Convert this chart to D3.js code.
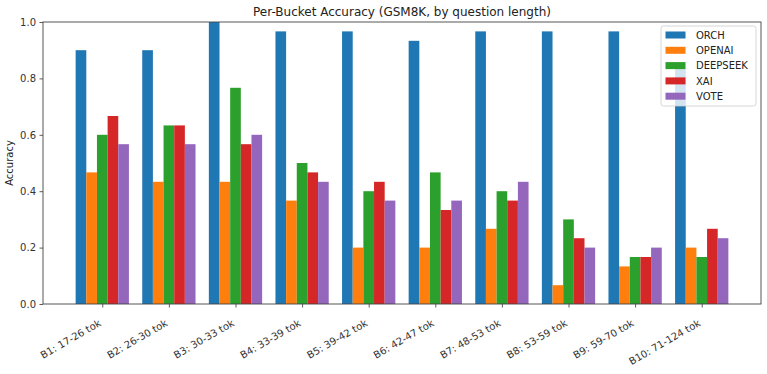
<!DOCTYPE html>
<html>
<head>
<meta charset="utf-8">
<script src="https://cdn.jsdelivr.net/npm/d3@7"></script>
<style>
  html, body { margin: 0; padding: 0; background: #fff; }
  svg { display: block; font-family: "DejaVu Sans", sans-serif; }
</style>
</head>
<body>
<svg id="chart" width="767" height="374"></svg>
<script>
const categories = ["B1: 17-26 tok", "B2: 26-30 tok", "B3: 30-33 tok", "B4: 33-39 tok", "B5: 39-42 tok",
                    "B6: 42-47 tok", "B7: 48-53 tok", "B8: 53-59 tok", "B9: 59-70 tok", "B10: 71-124 tok"];
const seriesNames = ["ORCH", "OPENAI", "DEEPSEEK", "XAI", "VOTE"];
const orch     = [0.9000, 0.9000, 1.0000, 0.9667, 0.9667, 0.9333, 0.9667, 0.9667, 0.9667, 0.8333];
const openai   = [0.4667, 0.4333, 0.4333, 0.3667, 0.2000, 0.2000, 0.2667, 0.0667, 0.1333, 0.2000];
const deepseek = [0.6000, 0.6333, 0.7667, 0.5000, 0.4000, 0.4667, 0.4000, 0.3000, 0.1667, 0.1667];
const xai      = [0.6667, 0.6333, 0.5667, 0.4667, 0.4333, 0.3333, 0.3667, 0.2333, 0.1667, 0.2667];
const vote     = [0.5667, 0.5667, 0.6000, 0.4333, 0.3667, 0.3667, 0.4333, 0.2000, 0.2000, 0.2333];
const yTicks = [0.0, 0.2, 0.4, 0.6, 0.8, 1.0];
const colors = ["#1f77b4", "#ff7f0e", "#2ca02c", "#d62728", "#9467bd"];
const seriesValues = [orch, openai, deepseek, xai, vote];

const svg = d3.select("#chart");
const L = 43, R = 761, T = 22, B = 304;
const barW = 0.16;
const n = categories.length;

const x = d3.scaleLinear().domain([-0.4 - 0.49, (n - 1) + 0.4 + 0.49]).range([L, R]);
const y = d3.scaleLinear().domain([0, 1]).range([B, T]);

// bars
const g = svg.append("g");
seriesValues.forEach((vals, si) => {
  g.selectAll(null).data(vals).enter().append("rect")
    .attr("x", (d, i) => x(i + (si - 2) * barW - barW / 2))
    .attr("width", (d, i) => x(i + (si - 2) * barW + barW / 2) - x(i + (si - 2) * barW - barW / 2))
    .attr("y", d => y(d))
    .attr("height", d => y(0) - y(d))
    .attr("fill", colors[si]);
});

// axes
const yAxis = d3.axisLeft(y).tickValues(yTicks).tickFormat(d3.format(".1f")).tickSize(3.5).tickPadding(3.5);
const yg = svg.append("g").attr("transform", `translate(${L},0)`).call(yAxis);
yg.select(".domain").remove();
yg.selectAll("text").attr("font-size", 10).attr("fill", "#333").attr("font-family", "DejaVu Sans");
yg.selectAll("line").attr("stroke", "#333").attr("stroke-width", 0.8);

const xAxis = d3.axisBottom(x).tickValues(d3.range(n)).tickFormat(i => categories[i]).tickSize(3.5).tickPadding(3.5);
const xg = svg.append("g").attr("transform", `translate(0,${B})`).call(xAxis);
xg.select(".domain").remove();
xg.selectAll("line").attr("stroke", "#333").attr("stroke-width", 0.8);
xg.selectAll("text")
  .attr("font-size", 10).attr("fill", "#333").attr("font-family", "DejaVu Sans")
  .attr("text-anchor", "end")
  .attr("dy", null)
  .attr("y", 0)
  .attr("transform", "translate(-1,21) rotate(-30)");

// spines
svg.append("rect").attr("x", L).attr("y", T).attr("width", R - L).attr("height", B - T)
  .attr("fill", "none").attr("stroke", "#444").attr("stroke-width", 0.9);

// title
svg.append("text").attr("x", (L + R) / 2).attr("y", 16).attr("text-anchor", "middle")
  .attr("font-size", 12).attr("fill", "#222").text("Per-Bucket Accuracy (GSM8K, by question length)");

// y label
svg.append("text").attr("transform", `translate(13,${(T + B) / 2}) rotate(-90)`)
  .attr("text-anchor", "middle").attr("font-size", 10).attr("fill", "#222").text("Accuracy");

// legend
const lg = svg.append("g").attr("transform", "translate(661,26)");
lg.append("rect").attr("x", 0).attr("y", 0).attr("width", 95).attr("height", 80).attr("rx", 2.5)
  .attr("fill", "#fff").attr("fill-opacity", 0.8).attr("stroke", "#ccc").attr("stroke-width", 0.8);
seriesNames.forEach((name, i) => {
  const cy = 9 + i * 15.3;
  lg.append("rect").attr("x", 4.5).attr("y", cy - 3.5).attr("width", 20).attr("height", 7).attr("fill", colors[i]);
  lg.append("text").attr("x", 35).attr("y", cy + 3.6).attr("font-size", 10).attr("fill", "#222").text(name);
});
</script>
</body>
</html>
